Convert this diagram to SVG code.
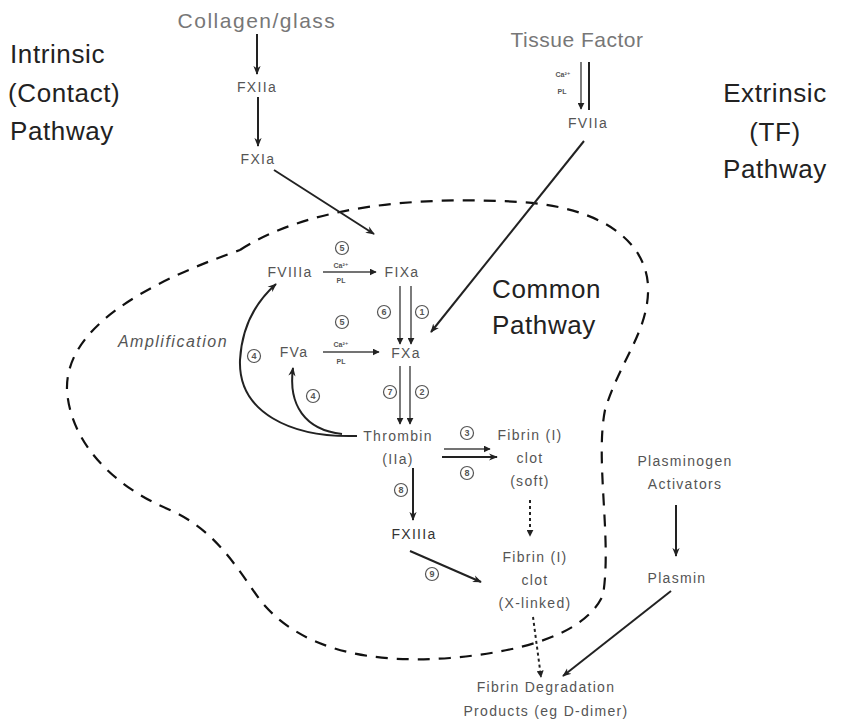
<svg xmlns="http://www.w3.org/2000/svg" width="846" height="723" viewBox="0 0 846 723">
<style>
text{font-family:"Liberation Sans","DejaVu Sans",sans-serif;text-anchor:middle}
.title{font-size:26px;fill:#222;letter-spacing:0.6px}
.src{font-size:21px;fill:#777;letter-spacing:1.5px}
.n{font-size:14px;fill:#555;letter-spacing:1.3px}
.lbl{font-size:16px;fill:#555;font-style:italic;letter-spacing:1.5px}
.sm{font-size:7px;fill:#555;font-weight:bold}
.ln{stroke:#222;stroke-width:2;fill:none}
.thin{stroke:#444;stroke-width:1.4;fill:none}
.dash{stroke:#222;stroke-width:2;fill:none;stroke-dasharray:3 3}
.blob{stroke:#111;stroke-width:2.2;fill:none;stroke-dasharray:12 9}
.c circle{fill:#fff;stroke:#555;stroke-width:1.2}
.c text{font-size:9px;fill:#555;font-weight:bold}
</style>
<defs>
<marker id="ah" viewBox="0 0 10 10" refX="9" refY="5" markerWidth="7" markerHeight="7" orient="auto" markerUnits="userSpaceOnUse">
<path d="M0,0 L10,5 L0,10 z" fill="#222"/>
</marker>
<marker id="ah2" viewBox="0 0 10 10" refX="9" refY="5" markerWidth="9" markerHeight="9" orient="auto" markerUnits="userSpaceOnUse">
<path d="M0,1 L10,5 L0,9 L3,5 z" fill="#222"/>
</marker>
</defs>
<rect width="846" height="723" fill="#fff"/>

<path class="blob" d="M240,250 C310,205 420,196 520,202 C600,207 645,240 648,285 C650,330 620,360 605,410 C595,460 612,540 603,595 C585,635 520,652 450,658 C370,664 300,650 260,600 C235,565 215,530 170,510 C110,485 70,440 67,390 C65,330 140,285 240,250"/>

<g id="connectors">
<line class="ln" x1="257" y1="34" x2="257" y2="74" marker-end="url(#ah2)"/>
<line class="ln" x1="258" y1="97" x2="258" y2="146" marker-end="url(#ah2)"/>
<line class="ln" x1="274" y1="170" x2="374" y2="234" marker-end="url(#ah2)"/>
<line class="thin" x1="581" y1="62" x2="581" y2="109" marker-end="url(#ah)"/>
<line class="ln" x1="589" y1="62" x2="589" y2="110"/>
<line class="ln" x1="584" y1="141" x2="431" y2="332" marker-end="url(#ah2)"/>
<line class="thin" x1="323" y1="272" x2="376" y2="272" marker-end="url(#ah)"/>
<line class="thin" x1="323" y1="352" x2="379" y2="352" marker-end="url(#ah)"/>
<line class="thin" x1="400" y1="286" x2="400" y2="344" marker-end="url(#ah)"/>
<line class="thin" x1="411" y1="286" x2="411" y2="344" marker-end="url(#ah)"/>
<line class="thin" x1="400" y1="366" x2="400" y2="424" marker-end="url(#ah)"/>
<line class="thin" x1="410" y1="366" x2="410" y2="424" marker-end="url(#ah)"/>
<line class="thin" x1="444" y1="449" x2="490" y2="449" marker-end="url(#ah)"/>
<line class="ln" x1="442" y1="457" x2="497" y2="457" marker-end="url(#ah2)"/>
<line class="ln" x1="413" y1="468" x2="413" y2="520" marker-end="url(#ah2)"/>
<line class="dash" x1="530" y1="500" x2="530" y2="536" marker-end="url(#ah)"/>
<line class="ln" x1="410" y1="551" x2="481" y2="582" marker-end="url(#ah2)"/>
<line class="dash" x1="533" y1="617" x2="541" y2="677" marker-end="url(#ah)"/>
<line class="ln" x1="676" y1="505" x2="676" y2="556" marker-end="url(#ah2)"/>
<line class="ln" x1="671" y1="591" x2="563" y2="676" marker-end="url(#ah2)"/>
<path class="ln" d="M357,436 C290,438 238,412 240,360 C242,325 258,300 276,284" marker-end="url(#ah2)"/>
<path class="ln" d="M342,434 C305,430 288,405 293,368" marker-end="url(#ah2)"/>
</g>

<g id="titles">
<text class="title" x="10" y="63" style="text-anchor:start">Intrinsic</text>
<text class="title" x="8" y="102" style="text-anchor:start">(Contact)</text>
<text class="title" x="10" y="140" style="text-anchor:start">Pathway</text>
<text class="title" x="775" y="102">Extrinsic</text>
<text class="title" x="775" y="141">(TF)</text>
<text class="title" x="775" y="178">Pathway</text>
<text class="title" x="492" y="298" style="text-anchor:start">Common</text>
<text class="title" x="492" y="334" style="text-anchor:start">Pathway</text>
</g>

<g id="collagen"><text class="src" x="257" y="28">Collagen/glass</text></g>
<g id="fxiia"><text class="n" x="257" y="92">FXIIa</text></g>
<g id="fxia"><text class="n" x="258" y="164">FXIa</text></g>
<g id="tf"><text class="src" x="577" y="47" style="letter-spacing:0.5px">Tissue Factor</text>
<text class="sm" x="563" y="77">Ca²⁺</text><text class="sm" x="562" y="94">PL</text></g>
<g id="fviia"><text class="n" x="588" y="128">FVIIa</text></g>
<g id="fviiia"><text class="n" x="290" y="277">FVIIIa</text>
<text class="sm" x="341" y="268">Ca²⁺</text><text class="sm" x="341" y="283">PL</text></g>
<g id="fixa"><text class="n" x="402" y="277">FIXa</text></g>
<g id="fva"><text class="n" x="294" y="357">FVa</text>
<text class="sm" x="341" y="347">Ca²⁺</text><text class="sm" x="341" y="364">PL</text></g>
<g id="fxa"><text class="n" x="406" y="358">FXa</text></g>
<g id="amp"><text class="lbl" x="173" y="347">Amplification</text></g>
<g id="thrombin"><text class="n" x="398" y="441">Thrombin</text><text class="n" x="398" y="464">(IIa)</text></g>
<g id="fibrin-soft"><text class="n" x="530" y="440">Fibrin (I)</text><text class="n" x="530" y="463">clot</text><text class="n" x="530" y="486">(soft)</text></g>
<g id="fxiiia"><text class="n" x="414" y="539" style="fill:#333">FXIIIa</text></g>
<g id="fibrin-x"><text class="n" x="535" y="562">Fibrin (I)</text><text class="n" x="535" y="585">clot</text><text class="n" x="535" y="608">(X-linked)</text></g>
<g id="plasminogen"><text class="n" x="685" y="466">Plasminogen</text><text class="n" x="685" y="489">Activators</text></g>
<g id="plasmin"><text class="n" x="677" y="583">Plasmin</text></g>
<g id="fdp"><text class="n" x="546" y="692">Fibrin Degradation</text><text class="n" x="546" y="716">Products (eg D-dimer)</text></g>

<g id="steps" class="c">
<circle cx="342" cy="248" r="6.5"/><text x="342" y="251">5</text>
<circle cx="384" cy="312" r="6.5"/><text x="384" y="315">6</text>
<circle cx="422" cy="312" r="6.5"/><text x="422" y="315">1</text>
<circle cx="342" cy="322" r="6.5"/><text x="342" y="325">5</text>
<circle cx="254" cy="356" r="6.5"/><text x="254" y="359">4</text>
<circle cx="313" cy="396" r="6.5"/><text x="313" y="399">4</text>
<circle cx="390" cy="392" r="6.5"/><text x="390" y="395">7</text>
<circle cx="422" cy="392" r="6.5"/><text x="422" y="395">2</text>
<circle cx="467" cy="433" r="6.5"/><text x="467" y="436">3</text>
<circle cx="467" cy="473" r="6.5"/><text x="467" y="476">8</text>
<circle cx="401" cy="490" r="6.5"/><text x="401" y="493">8</text>
<circle cx="432" cy="574" r="6.5"/><text x="432" y="577">9</text>
</g>
</svg>
